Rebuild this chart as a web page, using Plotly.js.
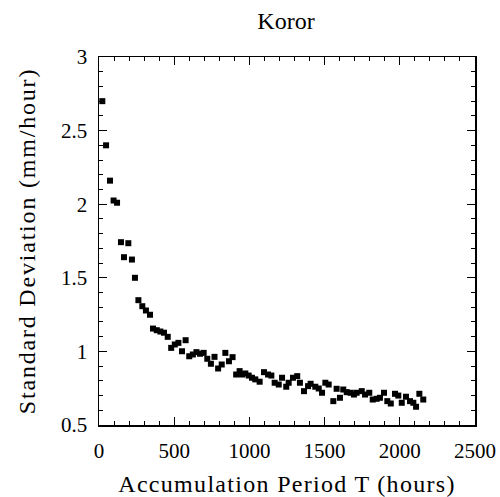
<!DOCTYPE html>
<html>
<head>
<meta charset="utf-8">
<script src="https://cdn.plot.ly/plotly-3.0.1.min.js"></script>
<style>
html,body{margin:0;padding:0;background:#fff;}
#chart{width:500px;height:497px;}
#chart .xtitle{letter-spacing:1.3px;}
#chart .ytitle{letter-spacing:1.8px;}
</style>
</head>
<body>
<div id="chart"></div>
<script>
var periodHours = [22,47,73,97,120,146,166,195,219,239,262,288,312,339,359,384,408,432,457,480,504,528,552,576,600,624,648,672,696,720,744,768,792,816,840,864,888,912,935,951,973,995,1017,1039,1068,1097,1124,1146,1168,1195,1217,1245,1261,1290,1318,1336,1363,1390,1407,1438,1461,1483,1505,1527,1558,1580,1602,1624,1647,1673,1695,1713,1747,1769,1797,1820,1846,1868,1895,1917,1940,1968,1990,2013,2041,2068,2090,2108,2130,2156];
var stdDev = [2.70,2.40,2.16,2.025,2.01,1.742,1.64,1.735,1.624,1.50,1.348,1.307,1.278,1.249,1.155,1.144,1.135,1.127,1.099,1.024,1.047,1.058,1.001,1.076,0.967,0.979,0.995,0.984,0.99,0.95,0.916,0.963,0.884,0.911,0.99,0.933,0.961,0.843,0.866,0.843,0.85,0.836,0.821,0.81,0.794,0.859,0.843,0.836,0.787,0.775,0.821,0.76,0.787,0.821,0.832,0.787,0.73,0.764,0.78,0.76,0.748,0.719,0.787,0.775,0.662,0.746,0.685,0.741,0.723,0.719,0.707,0.719,0.73,0.707,0.719,0.673,0.678,0.685,0.719,0.662,0.646,0.712,0.70,0.651,0.692,0.662,0.651,0.624,0.712,0.673];
var xTickVals = [0,500,1000,1500,2000,2500];
var xTickText = ['0','500','1000','1500','2000','2500'];
var yTickVals = [0.5,1,1.5,2,2.5,3];
var yTickText = ['0.5','1','1.5','2','2.5','3'];

var serif = "'Liberation Serif', 'Times New Roman', serif";
var axisCommon = {
  showgrid:false, zeroline:false, showline:true, linecolor:'#000', linewidth:1.5,
  mirror:'allticks', ticks:'inside', ticklen:8, tickwidth:1, tickcolor:'#000',
  tickfont:{family:serif, size:21, color:'#000'}
};
var layout = {
  width:500, height:497,
  margin:{l:99, r:25, t:57, b:72},
  paper_bgcolor:'#fff', plot_bgcolor:'#fff',
  showlegend:false,
  font:{family:serif, color:'#000'},
  title:{text:'Koror', font:{family:serif, size:24, color:'#000'}, x:0.572, xanchor:'center', y:0.958, yanchor:'middle'},
  xaxis:Object.assign({}, axisCommon, {
    range:[0,2500], tickmode:'array', tickvals:xTickVals, ticktext:xTickText,
    ticklabelstandoff:6,
    minor:{dtick:100, ticks:'inside', ticklen:4, tickcolor:'#000', tickwidth:1},
    title:{text:'Accumulation Period T (hours)', font:{family:serif, size:24, color:'#000'}, standoff:16}
  }),
  yaxis:Object.assign({}, axisCommon, {
    range:[0.5,3], tickmode:'array', tickvals:yTickVals, ticktext:yTickText,
    ticklabelstandoff:6,
    minor:{dtick:0.1, ticks:'inside', ticklen:4, tickcolor:'#000', tickwidth:1},
    title:{text:'Standard Deviation (mm/hour)', font:{family:serif, size:24, color:'#000'}, standoff:18}
  })
};
var trace = {
  x:periodHours, y:stdDev, type:'scatter', mode:'markers',
  marker:{symbol:'square', size:6, color:'#000'}
};
Plotly.newPlot('chart', [trace], layout, {displayModeBar:false, staticPlot:true});
</script>
</body>
</html>
